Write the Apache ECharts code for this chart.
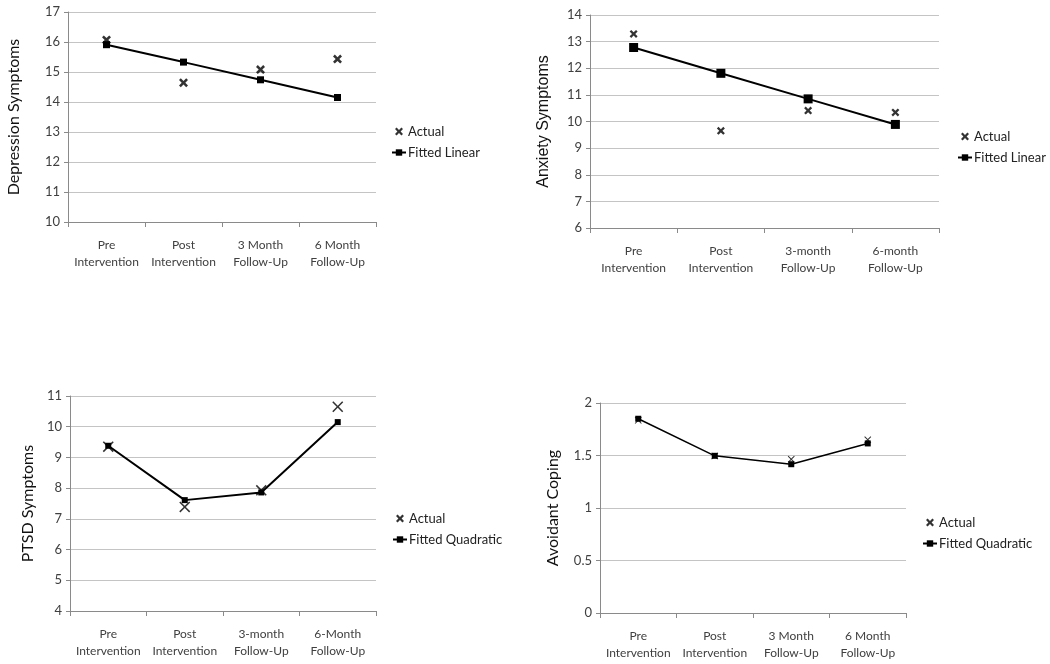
<!DOCTYPE html>
<html><head><meta charset="utf-8">
<script src="https://cdn.jsdelivr.net/npm/echarts@6/dist/echarts.min.js"></script>
<style>html,body{margin:0;padding:0;background:#fff}#c{width:1050px;height:664px}</style>
</head><body><div id="c"></div>
<script>
const catsDep = ['Pre\nIntervention','Post\nIntervention','3 Month\nFollow-Up','6 Month\nFollow-Up'];
const catsAnx = ['Pre\nIntervention','Post\nIntervention','3-month\nFollow-Up','6-month\nFollow-Up'];
const catsPtsd = ['Pre\nIntervention','Post\nIntervention','3-month\nFollow-Up','6-Month\nFollow-Up'];
const catsAvo = ['Pre\nIntervention','Post\nIntervention','3 Month\nFollow-Up','6 Month\nFollow-Up'];

const depActual = [16.07, 14.64, 15.08, 15.43];
const depFitted = [15.91, 15.33, 14.74, 14.15];
const anxActual = [13.29, 9.65, 10.41, 10.34];
const anxFitted = [12.78, 11.81, 10.85, 9.89];
const ptsdActual = [9.35, 7.39, 7.93, 10.65];
const ptsdFitted = [9.38, 7.61, 7.86, 10.15];
const avoActual = [1.835, 1.495, 1.465, 1.65];
const avoFitted = [1.85, 1.497, 1.417, 1.615];

const yDep = {min:10, max:17, interval:1, name:'Depression Symptoms'};
const yAnx = {min:6, max:14, interval:1, name:'Anxiety Symptoms'};
const yPtsd = {min:4, max:11, interval:1, name:'PTSD Symptoms'};
const yAvo = {min:0, max:2, interval:0.5, name:'Avoidant Coping'};

const XTHICK = 'path://M0,2L2,0L5,3L8,0L10,2L7,5L10,8L8,10L5,7L2,10L0,8L3,5Z';
const XTHIN = 'path://M0,1L1,0L5,4L9,0L10,1L6,5L10,9L9,10L5,6L1,10L0,9L4,5Z';
const FONT = 'Lato';

const grids = [
  {left:68, top:12, width:308, height:210},
  {left:590, top:15, width:349, height:213},
  {left:70, top:396, width:306, height:215},
  {left:600, top:403, width:306, height:210}
];
const cats = [catsDep, catsAnx, catsPtsd, catsAvo];
const ys = [yDep, yAnx, yPtsd, yAvo];
const nameFonts = [FONT, 'Liberation Sans', FONT, FONT];
const nameGaps = [46, 38, 34, 39];

const xAxis = cats.map((c,i)=>({
  type:'category', gridIndex:i, data:c, boundaryGap:true,
  axisLine:{lineStyle:{color:'#8a8a8a', width:1}},
  axisTick:{show:true, length:5, alignWithLabel:false, lineStyle:{color:'#8a8a8a'}},
  axisLabel:{color:'#404040', fontFamily:FONT, fontSize:12, lineHeight:17, margin:15, interval:0},
  splitLine:{show:false}
}));
const yAxis = ys.map((y,i)=>({
  type:'value', gridIndex:i, min:y.min, max:y.max, interval:y.interval,
  name:y.name, nameLocation:'middle', nameGap:nameGaps[i], nameRotate:90,
  nameTextStyle:{color:'#111', fontFamily:nameFonts[i], fontSize:16},
  axisLine:{show:true, lineStyle:{color:'#8a8a8a', width:1}},
  axisTick:{show:true, length:4, lineStyle:{color:'#8a8a8a'}},
  axisLabel:{color:'#404040', fontFamily:FONT, fontSize:13, margin:8},
  splitLine:{show:true, lineStyle:{color:'#c4c4c4', width:1}}
}));

const fitNames = ['Fitted Linear','Fitted Linear','Fitted Quadratic','Fitted Quadratic'];
const actuals = [depActual, anxActual, ptsdActual, avoActual];
const fitteds = [depFitted, anxFitted, ptsdFitted, avoFitted];
const xSyms = [XTHICK, XTHICK, XTHIN, XTHIN];
const xSizes = [9, 8, 11, 7];
const sqSizes = [7, 9, 6, 6];
const lineW = [2, 2, 2, 1.5];

const series = [];
for (let i=0;i<4;i++){
  series.push({
    type:'line', name:fitNames[i], xAxisIndex:i, yAxisIndex:i, data:fitteds[i],
    symbol:'rect', symbolSize:sqSizes[i], showSymbol:true,
    lineStyle:{color:'#000', width:lineW[i]}, itemStyle:{color:'#000'},
    z:2, animation:false
  });
  series.push({
    type:'scatter', name:'Actual', xAxisIndex:i, yAxisIndex:i, data:actuals[i],
    symbol:xSyms[i], symbolSize:xSizes[i], itemStyle:{color:'#000'},
    z:3, animation:false
  });
}

const legendPos = [
  {left:386, top:120},
  {left:952, top:125},
  {left:387, top:507},
  {left:917, top:511}
];
const legend = legendPos.map((p,i)=>({
  left:p.left, top:p.top, orient:'vertical', itemGap:8, itemWidth:14, itemHeight:8,
  selectedMode:false,
  data:['Actual', fitNames[i]],
  textStyle:{color:'#222', fontFamily:FONT, fontSize:13, padding:[0,0,0,-3]}
}));

const chart = echarts.init(document.getElementById('c'), null, {renderer:'canvas'});
chart.setOption({
  animation:false,
  backgroundColor:'#fff',
  grid:grids.map(g=>Object.assign({containLabel:false}, g)),
  xAxis, yAxis, legend, series
});
</script></body></html>
